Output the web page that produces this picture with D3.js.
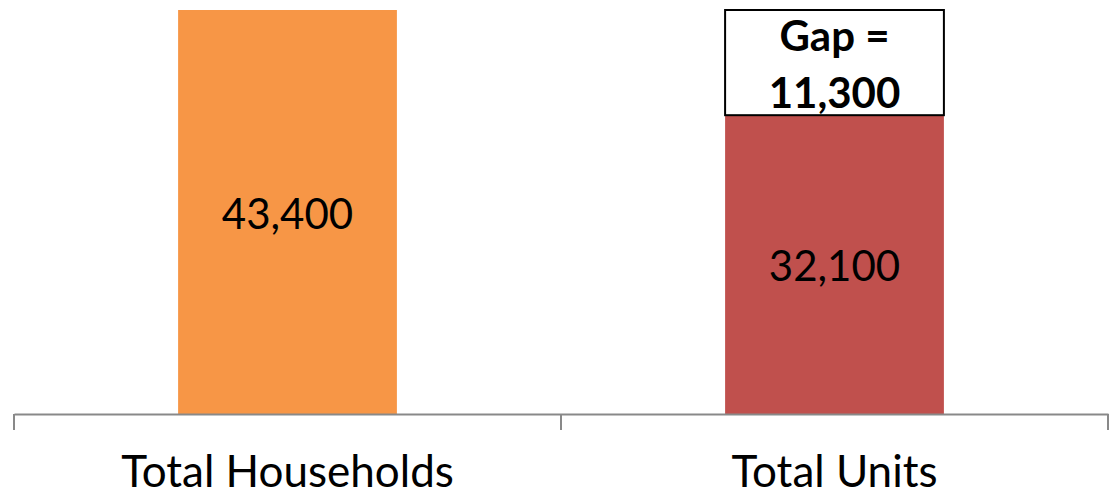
<!DOCTYPE html>
<html><head><meta charset="utf-8">
<script src="https://cdn.jsdelivr.net/npm/d3@7"></script>
<style>body{margin:0;background:#fff}svg{display:block}</style>
</head><body>
<svg id="c" width="1110" height="495"></svg>
<script>
const categories = ["Total Households", "Total Units"];
const values = [43400, 32100];
const colors = ["#F79646", "#C0504D"];
const gapValue = 11300;
const gapLabel = ["Gap =", "11,300"];

const svg = d3.select("#c");
const font = "Lato, 'Open Sans', sans-serif";
const x = d3.scaleBand().domain(categories).range([14, 1108]).padding(0);
const y = d3.scaleLinear().domain([0, d3.max(values)]).range([414, 10]);
const barW = x.bandwidth() * 0.4;

// bars
svg.selectAll("rect.bar").data(categories).join("rect")
  .attr("class", "bar")
  .attr("x", d => x(d) + (x.bandwidth() - barW) / 2)
  .attr("width", barW)
  .attr("y", (d, i) => y(values[i]))
  .attr("height", (d, i) => y(0) - y(values[i]))
  .attr("fill", (d, i) => colors[i]);

// value labels
svg.selectAll("text.val").data(categories).join("text")
  .attr("class", "val")
  .attr("x", d => x(d) + x.bandwidth() / 2)
  .attr("y", (d, i) => (y(values[i]) + y(0)) / 2)
  .attr("dy", "0.4em")
  .attr("text-anchor", "middle")
  .style("font-family", font).style("font-size", "42px").attr("fill", "#000")
  .text((d, i) => d3.format(",")(values[i]));

// gap box
const gc = categories[1];
const gx = x(gc) + (x.bandwidth() - barW) / 2;
svg.append("rect")
  .attr("x", gx).attr("width", barW)
  .attr("y", y(values[1] + gapValue)).attr("height", y(values[1]) - y(values[1] + gapValue))
  .attr("fill", "#fff").attr("stroke", "#000").attr("stroke-width", 2);
const gTop = y(values[1] + gapValue), gBot = y(values[1]);
svg.selectAll("text.gap").data(gapLabel).join("text")
  .attr("class", "gap")
  .attr("x", x(gc) + x.bandwidth() / 2)
  .attr("y", (d, i) => gTop + (gBot - gTop) * (i === 0 ? 0.39 : 0.93))
  .attr("text-anchor", "middle")
  .style("font-family", font).style("font-size", "42px").style("font-weight", "bold")
  .text(d => d);

// axis
const axis = d3.axisBottom(x).tickSize(0).tickPadding(42);
const ax = svg.append("g").attr("transform", `translate(0,${y(0)})`).call(axis);
ax.select(".domain").attr("stroke", "#898989").attr("stroke-width", 2);
ax.selectAll(".tick text").style("font-family", font).style("font-size", "44px").attr("fill", "#000");
// boundary ticks
const bounds = [x.range()[0], ...categories.slice(1).map(c => x(c)), x.range()[1]];
ax.selectAll("line.bt").data(bounds).join("line").attr("class", "bt")
  .attr("x1", d => d).attr("x2", d => d).attr("y1", 0).attr("y2", 16)
  .attr("stroke", "#898989").attr("stroke-width", 2);
</script>
</body></html>
